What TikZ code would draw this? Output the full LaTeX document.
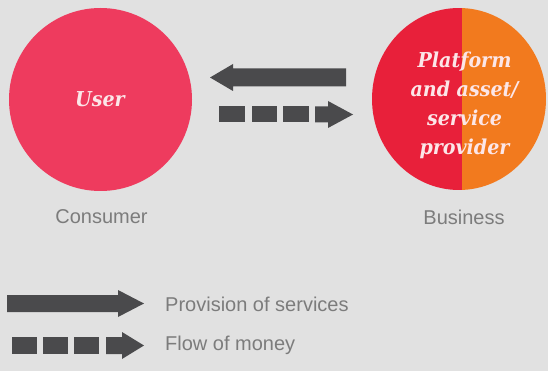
\documentclass[tikz,border=0pt]{standalone}
\usepackage{fontspec}
\setmainfont{Liberation Sans}
\newfontfamily\circfont[FakeStretch=0.93]{DejaVu Serif}
\usetikzlibrary{shapes.geometric}
\definecolor{bg}{HTML}{E1E1E1}
\definecolor{userred}{HTML}{EE3B5E}
\definecolor{bizred}{HTML}{E8203A}
\definecolor{bizorange}{HTML}{F27A1E}
\definecolor{arrowgrey}{HTML}{4A4A4C}
\definecolor{labelgrey}{HTML}{7C7C7C}
\definecolor{circtext}{HTML}{FCE6E8}
\begin{document}
\begin{tikzpicture}[x=1pt,y=-1pt,
  circtxt/.style={text=circtext,font=\circfont\bfseries\itshape\fontsize{20.5}{29}\selectfont,align=center,inner sep=0pt},
  lbl/.style={text=labelgrey,font=\fontsize{20}{24}\selectfont},
  fat/.style={fill=arrowgrey}]
\fill[bg] (0,0) rectangle (548,371);
\useasboundingbox (0,0) rectangle (548,371);
% circles
\node[circle,fill=userred,minimum size=183pt,inner sep=0pt] (user) at (100.5,99.5) {};
\node[circtxt] (usertext) at (100,99.5) {User};
\node[ellipse,minimum width=174pt,minimum height=182pt,inner sep=0pt,
  path picture={
    \fill[bizred] (path picture bounding box.south west) rectangle ([xshift=3pt]path picture bounding box.north);
    \fill[bizorange] ([xshift=3pt]path picture bounding box.south) rectangle (path picture bounding box.north east);
  }] (biz) at (459,99) {};
\node[circtxt] (biztext) at (464.5,105) {Platform\\and asset/\\service\\provider};
% labels
\node[lbl] (consumer) at (101.5,217) {Consumer};
\node[lbl] (business) at (464,217) {Business};
% provision arrow (business -> user)
\fill[fat] (346,68.5) -- (233,68.5) -- (233,64) -- (210,77.5) -- (233,91) -- (233,86.5) -- (346,86.5) -- cycle;
% money arrow (user -> business)
\foreach \a/\b in {219/245,252/277,283/309}
  \fill[fat] (\a,106.5) rectangle (\b,122.5);
\fill[fat] (315,106.5) -- (328,106.5) -- (328,101) -- (353,114.5) -- (328,128) -- (328,122.5) -- (315,122.5) -- cycle;
% legend
\fill[fat] (7,295) -- (118,295) -- (118,290) -- (144,303.5) -- (118,317) -- (118,312) -- (7,312) -- cycle;
\foreach \a/\b in {12/37,43/68,74/99}
  \fill[fat] (\a,337) rectangle (\b,354);
\fill[fat] (106,337) -- (122,337) -- (122,332) -- (144,345.5) -- (122,359) -- (122,354) -- (106,354) -- cycle;
\node[lbl,anchor=west,inner sep=0pt] (prov) at (165,304) {Provision of services};
\node[lbl,anchor=west,inner sep=0pt] (flow) at (165,345.5) {Flow of money};
\end{tikzpicture}
\end{document}
